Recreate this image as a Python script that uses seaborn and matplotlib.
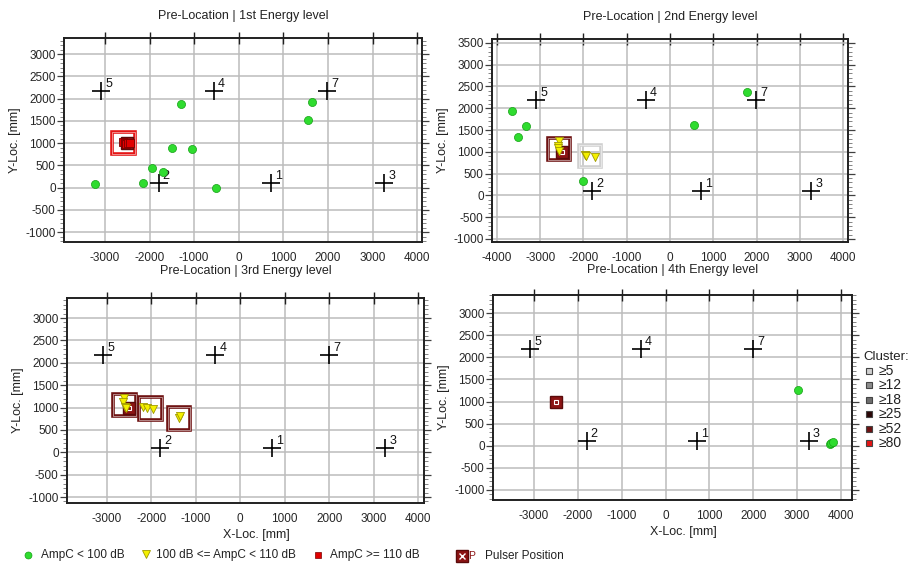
import seaborn as sns
import matplotlib.pyplot as plt
from matplotlib.patches import Rectangle
from matplotlib.lines import Line2D
from matplotlib.ticker import MultipleLocator

# Sensor positions (mm)
sensor_ids = ['1', '2', '3', '4', '5', '7']
sensor_x = [720, -1800, 3260, -560, -3090, 1990]
sensor_y = [100, 100, 100, 2180, 2180, 2180]

pulser_x = [-2500]
pulser_y = [1000]

titles = ["Pre-Location | 1st Energy level", "Pre-Location | 2nd Energy level",
          "Pre-Location | 3rd Energy level", "Pre-Location | 4th Energy level"]

# 1st energy level
e1_green_x = [-3230, -2150, -1950, -1710, -1500, -1050, -1300, -520, 1560, 1640]
e1_green_y = [80, 100, 440, 360, 890, 870, 1890, 0, 1530, 1930]
e1_yellow_x = []
e1_yellow_y = []
e1_red_x = [-2600, -2560, -2520, -2480, -2450]
e1_red_y = [1020, 1000, 990, 1010, 1000]
e1_box_x = [-2590]
e1_box_y = [1005]
e1_box_c = ['≥80']

# 2nd energy level
e2_green_x = [-3660, -3320, -3510, -2000, 550, 1790]
e2_green_y = [1940, 1590, 1330, 330, 1610, 2380]
e2_yellow_x = [-2570, -2600, -2580, -2570, -1960, -1940, -1730]
e2_yellow_y = [1240, 1130, 1080, 1020, 930, 900, 880]
e2_red_x = []
e2_red_y = []
e2_box_x = [-2575, -1860]
e2_box_y = [1060, 900]
e2_box_c = ['≥52', '≥5']

# 3rd energy level
e3_green_x = []
e3_green_y = []
e3_yellow_x = [-2620, -2640, -2600, -2570, -2180, -2100, -1975, -1390, -1350]
e3_yellow_y = [1210, 1130, 1010, 980, 1020, 990, 970, 760, 800]
e3_red_x = []
e3_red_y = []
e3_box_x = [-2600, -2020, -1380]
e3_box_y = [1055, 975, 757]
e3_box_c = ['≥52', '≥52', '≥52']

# 4th energy level
e4_green_x = [3010, 3740, 3780, 3810]
e4_green_y = [1270, 40, 70, 90]
e4_yellow_x = []
e4_yellow_y = []
e4_red_x = []
e4_red_y = []
e4_box_x = []
e4_box_y = []
e4_box_c = []

cluster_labels = ['≥5', '≥12', '≥18', '≥25', '≥52', '≥80']
cluster_colors = ['#d0d0d0', '#8c8c8c', '#6e6e6e', '#2a0606', '#6e1212', '#e41414']
cluster_map = dict(zip(cluster_labels, cluster_colors))

green_c, green_e = '#2fdc2f', '#15a015'
yellow_c, yellow_e = '#f4f000', '#a09a00'
red_c, red_e = '#e00000', '#7a0000'
pulser_c = '#8c1414'

panels = [
    dict(pos=(64, 38, 422, 242), xlim=(-3920, 4110), ylim=(-1220, 3365), xt=range(-3000, 4001, 1000),
         yt=range(-1000, 3001, 500), gx=e1_green_x, gy=e1_green_y, yx=e1_yellow_x, yy=e1_yellow_y,
         rx=e1_red_x, ry=e1_red_y, bx=e1_box_x, by=e1_box_y, bc=e1_box_c, xl=False, pad=14),
    dict(pos=(492, 39, 848, 242), xlim=(-4115, 4115), ylim=(-1070, 3590), xt=range(-4000, 4001, 1000),
         yt=range(-1000, 3501, 500), gx=e2_green_x, gy=e2_green_y, yx=e2_yellow_x, yy=e2_yellow_y,
         rx=e2_red_x, ry=e2_red_y, bx=e2_box_x, by=e2_box_y, bc=e2_box_c, xl=False, pad=14),
    dict(pos=(67, 298, 424, 503), xlim=(-3900, 4135), ylim=(-1134, 3447), xt=range(-3000, 4001, 1000),
         yt=range(-1000, 3001, 500), gx=e3_green_x, gy=e3_green_y, yx=e3_yellow_x, yy=e3_yellow_y,
         rx=e3_red_x, ry=e3_red_y, bx=e3_box_x, by=e3_box_y, bc=e3_box_c, xl=True, pad=17),
    dict(pos=(493, 295, 852, 500), xlim=(-3934, 4250), ylim=(-1226, 3407), xt=range(-3000, 4001, 1000),
         yt=range(-1000, 3001, 500), gx=e4_green_x, gy=e4_green_y, yx=e4_yellow_x, yy=e4_yellow_y,
         rx=e4_red_x, ry=e4_red_y, bx=e4_box_x, by=e4_box_y, bc=e4_box_c, xl=True, pad=16),
]

sns.set_style("white")
plt.rcParams['font.family'] = ['Liberation Sans', 'DejaVu Sans']
plt.rcParams['axes.unicode_minus'] = False

W, H = 908, 566
fig = plt.figure(figsize=(W / 100, H / 100), dpi=100)

for title, p in zip(titles, panels):
    l, t, r, b = p['pos']
    ax = fig.add_axes([l / W, 1 - b / H, (r - l) / W, (b - t) / H])
    ax.set_xlim(*p['xlim'])
    ax.set_ylim(*p['ylim'])
    ax.set_xticks(list(p['xt']))
    ax.set_yticks(list(p['yt']))
    ax.yaxis.set_minor_locator(MultipleLocator(100))
    ax.grid(True, which='major', color='#bcbcbc', lw=1.1)
    ax.set_axisbelow(True)
    for s in ax.spines.values():
        s.set_color('#202020')
        s.set_linewidth(1.4)
    ax.tick_params(axis='x', which='major', top=True, bottom=False, direction='inout',
                   length=9, width=1.0, color='#202020', labelsize=8.5, pad=3)
    ax.tick_params(axis='y', which='major', left=True, right=True, direction='out',
                   length=5, width=0.9, color='#404040', labelsize=8.5, pad=1)
    ax.tick_params(axis='y', which='minor', left=True, right=True, direction='out',
                   length=3, width=0.6, color='#707070')
    ax.set_title(title, fontsize=9, pad=p['pad'], color='#222222')
    ax.set_ylabel("Y-Loc. [mm]", fontsize=9, labelpad=3, color='#222222')
    if p['xl']:
        ax.set_xlabel("X-Loc. [mm]", fontsize=9, color='#222222')
        ax.xaxis.set_label_coords(0.53, -0.125)

    # cluster boxes
    for cx, cy, cl in zip(p['bx'], p['by'], p['bc']):
        ax.add_patch(Rectangle((cx - 255, cy - 255), 510, 510, fill=False,
                               edgecolor=cluster_map[cl], lw=2.6, zorder=3))
        ax.add_patch(Rectangle((cx - 255, cy - 255), 510, 510, fill=False,
                               edgecolor='white', lw=0.5, alpha=0.7, zorder=3))

    # pulser
    ax.plot(pulser_x, pulser_y, 's', ms=8, color=pulser_c, mec='#5a0a0a', zorder=4)
    ax.plot(pulser_x, pulser_y, 's', ms=3, mfc='none', mec='white', mew=0.8, zorder=4)

    # sensors
    sns.scatterplot(x=sensor_x, y=sensor_y, marker='+', s=160, color='black',
                    linewidth=1.2, ax=ax, zorder=5)
    for sid, sx, sy in zip(sensor_ids, sensor_x, sensor_y):
        ax.annotate(sid, (sx, sy), xytext=(3, 3), textcoords='offset points',
                    fontsize=9, color='#111111')

    # hits
    if p['gx']:
        sns.scatterplot(x=p['gx'], y=p['gy'], marker='o', s=34, color=green_c,
                        edgecolor=green_e, linewidth=0.5, ax=ax, zorder=6)
    if p['yx']:
        sns.scatterplot(x=p['yx'], y=p['yy'], marker='v', s=34, color=yellow_c,
                        edgecolor=yellow_e, linewidth=0.6, ax=ax, zorder=6)
    if p['rx']:
        sns.scatterplot(x=p['rx'], y=p['ry'], marker='s', s=34, color=red_c,
                        edgecolor=red_e, linewidth=0.6, ax=ax, zorder=6)


def fx(x):
    return x / W


def fy(y):
    return 1 - y / H


# bottom legend
fig.add_artist(Line2D([fx(28)], [fy(555)], marker='o', ms=5, color=green_c, mec=green_e, mew=0.5))
fig.text(fx(41), fy(555), "AmpC < 100 dB", fontsize=8.5, va='center', color='#222222')
fig.add_artist(Line2D([fx(146)], [fy(554)], marker='v', ms=6, color=yellow_c, mec=yellow_e, mew=0.6))
fig.text(fx(156), fy(555), "100 dB <= AmpC < 110 dB", fontsize=8.5, va='center', color='#222222')
fig.add_artist(Line2D([fx(318)], [fy(555)], marker='s', ms=5, color=red_c, mec=red_e, mew=0.5))
fig.text(fx(330), fy(555), "AmpC >= 110 dB", fontsize=8.5, va='center', color='#222222')
fig.add_artist(Line2D([fx(462)], [fy(556)], marker='s', ms=9, color=pulser_c, mec='#5a0a0a'))
fig.add_artist(Line2D([fx(462)], [fy(556)], marker='x', ms=4, color='white', mew=1))
fig.text(fx(468), fy(556), "P", fontsize=7.5, va='center', color=pulser_c)
fig.text(fx(485), fy(556), "Pulser Position", fontsize=8.5, va='center', color='#222222')

# cluster legend
fig.text(fx(863), fy(357), "Cluster:", fontsize=9.5, va='center', color='#222222')
for i, (lab, col) in enumerate(zip(cluster_labels, cluster_colors)):
    yy = 371 + i * 14.4
    fig.add_artist(Line2D([fx(869)], [fy(yy)], marker='s', ms=5, color=col, mec='#444444', mew=0.8))
    fig.text(fx(879), fy(yy), lab, fontsize=10, va='center', color='#222222')

plt.savefig("out.png", dpi=100)
